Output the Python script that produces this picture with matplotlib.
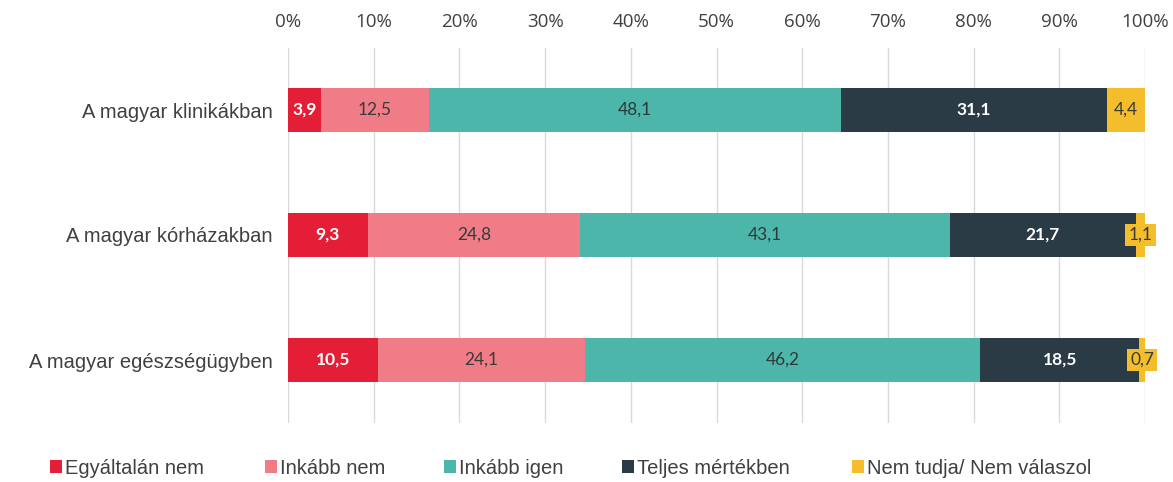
import matplotlib
matplotlib.use("Agg")
import matplotlib.pyplot as plt
from matplotlib.patches import Patch

categories = ["A magyar klinikákban", "A magyar kórházakban", "A magyar egészségügyben"]
series_names = ["Egyáltalán nem", "Inkább nem", "Inkább igen", "Teljes mértékben", "Nem tudja/ Nem válaszol"]
values = {
    "Egyáltalán nem": [3.9, 9.3, 10.5],
    "Inkább nem": [12.5, 24.8, 24.1],
    "Inkább igen": [48.1, 43.1, 46.2],
    "Teljes mértékben": [31.1, 21.7, 18.5],
    "Nem tudja/ Nem válaszol": [4.4, 1.1, 0.7],
}
colors = ["#E31E36", "#EF7C86", "#4BB6A9", "#2A3B46", "#F3BD2B"]
text_colors = ["white", "#3a3a3a", "#2d3a3a", "white", "#3a3a3a"]
xticks = [0, 10, 20, 30, 40, 50, 60, 70, 80, 90, 100]

fig = plt.figure(figsize=(11.73, 4.82), dpi=100)
ax = fig.add_axes([288/1173, 1-422.5/482, (1145-288)/1173, 375/482])

ypos = list(range(len(categories)))
left = [0.0]*len(categories)
for i, name in enumerate(series_names):
    vals = values[name]
    ax.barh(ypos, vals, left=left, height=0.35, color=colors[i], zorder=3)
    for j, v in enumerate(vals):
        cx = left[j] + v/2
        ax.text(cx, ypos[j], f"{v:.1f}".replace(".", ","), ha="center", va="center",
                fontsize=12.5, fontweight="bold" if text_colors[i] == "white" else "normal",
                color=text_colors[i], family="Lato", zorder=5,
                bbox=dict(boxstyle="square,pad=0.2", fc=colors[i], ec="none"))
    left = [l + v for l, v in zip(left, vals)]

ax.set_xlim(0, 100)
ax.set_ylim(2.5, -0.5)
ax.set_yticks(ypos)
ax.set_yticklabels(categories, fontsize=14.5, color="#404040", family="Liberation Sans")
ax.set_xticks(xticks)
ax.set_xticklabels([f"{t}%" for t in xticks], fontsize=13.5, color="#404040", family="Open Sans")
ax.xaxis.tick_top()
ax.tick_params(axis="both", length=0)
ax.tick_params(axis="x", pad=12)
ax.tick_params(axis="y", pad=11)
ax.grid(axis="x", color="#d9d9d9", linewidth=1, zorder=0)
for s in ax.spines.values():
    s.set_visible(False)

legend_x = [50, 265, 444, 622, 852]
for name, c, lx in zip(series_names, colors, legend_x):
    fig.legend([Patch(facecolor=c, edgecolor="none")], [name], loc="center left",
               bbox_to_anchor=(lx/1173, 1-468/482), frameon=False, borderpad=0,
               borderaxespad=0, handlelength=0.6, handleheight=0.6, handletextpad=0.15,
               prop={"family": "Liberation Sans", "size": 14.5}, labelcolor="#404040")

fig.savefig("out.png", dpi=100)
